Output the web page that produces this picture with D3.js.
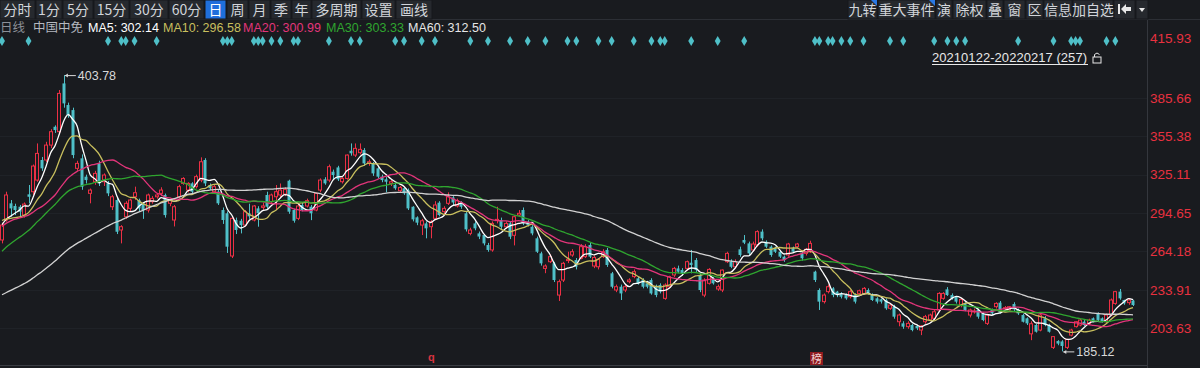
<!DOCTYPE html>
<html><head><meta charset="utf-8">
<script src="https://cdn.jsdelivr.net/npm/d3@7"></script>
<style>
html,body{margin:0;padding:0;background:#191b1f;overflow:hidden}
svg{display:block}
</style></head>
<body>
<svg id="c" width="1200" height="368"></svg>
<script>
// ---------- DATA ----------
const PRE_CLOSES = [200,198,195,192,190,188,186,185,184,186,188,190,192,194,195,196,197,198,199,200,201,202,200,198,197,199,201,203,205,206,
210,215,218,222,225,228,230,232,235,238,
255,262,270,276,280,284,288,290,292,294,296,294,292,290,288,287,286,285,284];
const OPEN = [273.3,289.1,302.3,300.2,299.6,293,309.4,311.5,320.7,336.6,336.6,348.4,362.9,359,397.2,380.1,376.1,330,337.9,323.4,
310.2,319.4,333.9,319.4,318.1,299.6,304.9,281.2,291.7,298.3,307.5,304.9,302.3,297,303.6,307.5,310.2,308.9,302.3,289.1,
307.5,318.1,312.8,318.1,315.5,320.7,336.6,316.8,311.5,311.5,297,294.4,260.6,289.1,288.5,285.1,294.4,289.1,298.3,299.1,
308.9,303.6,307.5,308.9,309.6,320.2,297,290.4,301,300.2,299.6,297,312.8,321.3,320.7,327.3,330.7,319.4,322,343.9,
340.5,342.4,344.5,333.9,333.9,330,323.4,321.3,318.1,316.8,312.3,314.2,312.8,299.6,291.2,285.1,286.4,283.8,290.4,302.8,
295.7,302.3,307,300.2,302.3,294.4,278.5,286.4,278.5,277.2,269.3,265.4,288.6,289.1,283.8,286.4,277,293,297,287.8,
283.8,274.6,262.7,250.8,256.1,254.8,229.7,241.6,257,261.4,257.4,258.8,260.1,269.3,252.7,252.1,260.1,265.4,246.9,233.7,
236.3,233.7,240.3,244.3,242.9,241.6,239,241.6,236.3,237.6,227.1,236.3,245.6,250.8,249.5,250.8,255.3,257.4,245.6,229.7,
239,242.9,234.5,233.7,256.1,256.1,252.1,265.9,273.3,270.6,265.4,269.3,279.9,271.9,268,266.7,264,260.1,261.4,266.7,
268,262.7,262.7,264,248.2,233.7,224.5,232.4,235,232.4,231,229.7,228.4,229.7,231,231,233.7,229.7,227.1,226.3,
225.8,219.2,220.5,208.6,207.3,204.7,206,205.3,202,208.6,209.9,211.3,217.9,227.1,234.2,229.7,228.4,221.8,223.1,213.9,
216.5,217.9,215.2,207.3,217.9,220.5,223.7,218.9,217.9,222.6,217.9,213.9,211.3,199,206,202,211.3,206,188.3,193.3,
193,188.3,198,204.7,206,208.6,207.3,211.3,215.2,211.3,208.6,213.9,223.1,232.4,225.8,223.7,225.3];
const HIGH = [287,311.5,304.9,302,301,303,316.8,333,349.7,339,351,361,364,392,403.78,382,378,336,341,325,
314,328,336,326,320,309,307,285,304,306,315.5,306,303,310,308,310,315,310,306,301,
317,323,319,319,325,338.7,338,318,317,313,299,296,292,291,290,297,302,301,300,302.8,
311.5,310,316.8,318,315,321,298,302,303,306,301,311,322,323,333,329,332,323,341,349.7,
349.7,349.7,346,337,335,331,325,323,321,318,316,315,314,300,292,290,288,289,304,304,
300,311,308,306,304,296,283,288,280,278,271,288,299.6,291,288,288,293,297,299,289,
285,276,264,254,262,256,242,256,264,266,259,270,270,271,261,259,266,267,248,238,
238,238,243,250,244,243,241,243,238,239,239,245,252,253,251,257,265.4,259,247,243,
251,244,238,250,264,258,258,268,277.2,272,272,281,281.7,273,269,268,265,261,271,268,
271,264,267,272.7,249,235,231,238,236,233,232,231,234,231,234,236,235,231,228,227,
227,223,222,215,209,209,207,206,206,214,215,218,232,232,236,231,229,227,224,219,
219,219,216,215,219,224,225,221,221,224,219,215,212,209,207,215,213,207,197,194,
194,195,203,209,211,210,211,212,216,212,215,227,233,234.5,226,227,226];
const LOW = [270.6,287.8,291.7,293,292,291,302.3,309,319.4,328,335,346,358,357,378,370,338,328,313,318,
302.3,317,316,316,308,297,278,270.6,290,296,305,296,290,295,302,306,308,291,300,284,
306,317,311,310,314,319,316,313,310,301,286,263,259,278,278.5,284,290,288,283.8,297,
298,302,297,307,308,294,287,289,296,299,289,296,311,317,319,320.7,320,318,321,340,
339,341,332,332,324,322,319,311,316,313,311,309,297,288,285,277.2,274.6,274.6,289,292,
294,301,301,299,298,280,277,281,274,269,264,264,286.4,282,282,274,269,292,285,284,
277,263,253,247,255,240,225,240,255,260,250,258,259,259,251,250,259,252,235,232,
225.8,232,239,243,238,235,235,230,228,231,226,235,244,247,245,249,246.9,248,232,228,
238,238,233,232,255,251,251,260,270,261,264,268,273,267,260,263,259,256,260,263,
267,257,261,263,240,217.9,223,231,228,228,227,226,227,223,230,230,230,225,223,223,
218,218,211,205,203,203,201,202,198,207,209,210,217,226,229,226,223,220,217,212,
215,211,209,206,214,219,215,218,217,217,214,208,206,194,200,201,205,200,187,190,
185.12,187,197,204,205,205,206,208,209,208,207,213,222,226,222,222,221];
const CLOSE = [285.1,308.9,298.3,297,295.7,301.7,307.5,331.8,341.8,330,348.4,359,360.3,389.3,381.4,372.2,340.5,333.9,315.4,320.7,
312.8,326,318.1,324.7,310.2,307.5,279.8,283.8,302.3,304.9,310.7,298.3,297,308.9,306.2,308.9,312.8,293,304.9,299.6,
315.5,322,318.1,311.5,323.4,335.2,318.1,314.2,315.5,302.3,289.1,268,290.4,281.2,285.1,295.7,292,300.2,294.4,300.2,
299.6,308.9,311.5,312.8,313.3,295.7,288.5,300.2,297,304.4,294.4,310.2,320.7,318.1,331.3,324.7,321.3,322,340.5,341.9,
345.8,345,333.9,335.2,326,323.4,320.7,319.4,319.4,314.2,314.9,310.2,298.3,289.6,287,288.5,282.5,287.8,301,293,
298.3,307.5,303,304.4,299.6,281.7,281.2,282.5,276,270.6,265.4,286.4,289.6,283.8,286.4,275.9,291.7,294.4,286.4,285.1,
278.5,264,254.8,252.7,260.1,241.6,240.3,254.8,258,264,252.1,268,268,260.1,259.5,258,264,253.5,236.3,236.3,
231,236.3,241.6,248.2,239,236.3,236.3,231,229.7,232.4,237.6,244.3,250.8,248.2,246.9,256.1,253.5,249.5,233.7,241.6,
250,239,236.3,249.5,262.7,252.1,256.1,261.4,271.2,262.7,270.1,279.9,274.6,268,261.4,264,260.1,257.4,270.1,264,
270.1,258.8,265.9,270.6,241.6,224.5,229.7,236.3,229.7,229.7,228.4,227.1,232.4,224.5,233.1,235,231,225.8,224.5,224.5,
219.2,221.8,212.6,213.9,204.7,207.3,202,203.4,205.3,212.6,213.9,216.5,231,231,229.7,227.1,224.5,226.3,217.9,217.9,
217.1,212.6,209.9,213.9,215.2,223.1,215.8,219.7,220.5,218.4,215.2,208.6,207.3,207,200.7,213.9,206,200.7,196.8,191.3,
189.4,194.6,202,208.6,209.9,206,209.9,208.6,210,208.6,213.9,225.8,232.4,227.1,223.1,225.8,221.8];

const MA_PERIODS = [5, 10, 20, 30, 60];
const MA_COLORS = ["#ffffff", "#c8bf5e", "#e2357a", "#2fa52f", "#d2d2d2"];
const Y_TICKS = [203.63, 233.91, 264.18, 294.65, 325.11, 355.38, 385.66];
const TOP_LABEL = "415.93";
const MAX_LABEL = "403.78", MAX_IDX = 14, MAX_VAL = 403.78;
const MIN_LABEL = "185.12", MIN_IDX = 240, MIN_VAL = 185.12;
const EVENT_IDX = [0,6,24,27,28,30,35,50,51,52,57,58,59,61,63,66,67,74,79,81,89,91,95,98,
106,110,115,119,123,128,130,135,138,143,147,149,150,156,162,168,
184,185,187,188,190,192,195,201,204,211,214,216,218,230,238,242,243,244,250,252];
const TOOL_LEFT = [["分时",0,35],["1分",36,62],["5分",63,93],["15分",94,129],["30分",130,168],["60分",169,204],["日",205,226],["周",227,248],["月",249,270],["季",271,291],["年",292,311],["多周期",312,361],["设置",362,395],["画线",396,432]];
const TOOL_RIGHT = [["九转",848,877],["重大事件",878,935],["演",936,952],["除权",953,986],["叠",987,1003],["窗",1004,1025],["区",1026,1043],["信息",1044,1072],["加自选",1073,1113]];
const LEGEND = [["日线","#8c9098",0],["中国中免","#b4b8bf",33],["MA5: 302.14","#ffffff",88],["MA10: 296.58","#c8bf5e",163],["MA20: 300.99","#e2357a",243],["MA30: 303.33","#2fa52f",326],["MA60: 312.50","#e6e6e6",408]];
const RANGE_TEXT = "20210122-20220217 (257)";

// ---------- DRAW ----------
const svg = d3.select("#c");
const UP = "#ec3045", DOWN = "#4fc0c8";
const N = CLOSE.length;
const x = d3.scaleLinear().domain([0, N - 1]).range([2, 1133]);
const y = d3.scaleLinear().domain([203.63, 385.66]).range([328, 98]);
const cjk = "'Noto Sans CJK SC','Noto Sans',sans-serif";
const num = "'Liberation Sans',Arial,sans-serif";

// grid
svg.append("g").selectAll("line").data(Y_TICKS).join("line")
  .attr("x1", 0).attr("x2", 1147).attr("y1", d => Math.round(y(d)) + 0.5).attr("y2", d => Math.round(y(d)) + 0.5)
  .attr("stroke", "#1f2227").attr("stroke-width", 1);

// frame lines
svg.append("line").attr("x1", 0).attr("x2", 1200).attr("y1", 19.5).attr("y2", 19.5).attr("stroke", "#2c2f35");
svg.append("line").attr("x1", 1147.5).attr("x2", 1147.5).attr("y1", 20).attr("y2", 368).attr("stroke", "#34373d");
svg.append("line").attr("x1", 0).attr("x2", 1147).attr("y1", 365.5).attr("y2", 365.5).attr("stroke", "#3a3d43");

// toolbar
function toolbar(items) {
  const g = svg.append("g");
  items.forEach(([t, a, b]) => {
    const active = t === "日";
    g.append("rect").attr("x", a).attr("y", 0).attr("width", b - a).attr("height", 19)
      .attr("fill", active ? "#1f6fdc" : "#26292e").attr("stroke", "#17191c").attr("stroke-width", 1);
    g.append("text").attr("x", (a + b) / 2).attr("y", 15).attr("text-anchor", "middle")
      .attr("font-family", cjk).attr("font-size", 14).attr("fill", active ? "#ffffff" : "#d2d5da").text(t);
  });
}
toolbar(TOOL_LEFT);
toolbar(TOOL_RIGHT);
// blue corner flags
[877, 935].forEach(px => {
  svg.append("path").attr("d", `M${px - 6},0 L${px},0 L${px},6 Z`).attr("fill", "#2a78e4");
});
// icon buttons
svg.append("rect").attr("x", 1114).attr("y", 0).attr("width", 21).attr("height", 19).attr("fill", "#26292e").attr("stroke", "#17191c");
svg.append("rect").attr("x", 1136).attr("y", 0).attr("width", 12).attr("height", 19).attr("fill", "#26292e").attr("stroke", "#17191c");
svg.append("rect").attr("x", 1118).attr("y", 4).attr("width", 2).attr("height", 10).attr("fill", "#e8e8e8");
svg.append("path").attr("d", "M1121,9 L1126,4 L1126,7 L1131,7 L1131,11 L1126,11 L1126,14 Z").attr("fill", "#e8e8e8");
svg.append("path").attr("d", "M1139,8 L1145,8 L1142,12 Z").attr("fill", "#e8e8e8");

// legend
LEGEND.forEach(([t, c, px]) => {
  const isC = /[\u4e00-\u9fff]/.test(t);
  svg.append("text").attr("x", px).attr("y", 32).attr("font-family", isC ? cjk : num)
    .attr("font-size", isC ? 12.5 : 12.5).attr("fill", c).text(t);
});

// event diamonds
svg.append("g").selectAll("path").data(EVENT_IDX).join("path")
  .attr("d", d3.symbol(d3.symbolDiamond, 30))
  .attr("transform", d => `translate(${x(d)},41)`).attr("fill", "#4fc0c8");

// range text
svg.append("text").attr("x", 932).attr("y", 62).attr("font-family", num).attr("font-size", 13)
  .attr("fill", "#e8e8e8").attr("textLength", 155).text(RANGE_TEXT);
svg.append("line").attr("x1", 932).attr("x2", 1088).attr("y1", 64.5).attr("y2", 64.5).attr("stroke", "#e8e8e8");
// lock
svg.append("rect").attr("x", 1093).attr("y", 57).attr("width", 8).attr("height", 6).attr("fill", "none").attr("stroke", "#e8e8e8").attr("stroke-width", 1);
svg.append("path").attr("d", "M1094.5,57 L1094.5,54.5 Q1097,51.5 1099.5,54.5").attr("fill", "none").attr("stroke", "#e8e8e8");

// y axis
const axis = d3.axisRight(y).tickValues(Y_TICKS).tickSize(0).tickPadding(3).tickFormat(d3.format(".2f"));
const ag = svg.append("g").attr("transform", "translate(1147,0)").call(axis);
ag.select(".domain").remove();
ag.selectAll("text").attr("fill", "#e8313f").attr("font-family", num).attr("font-size", 13.5);
svg.append("text").attr("x", 1150).attr("y", 43).attr("fill", "#e8313f").attr("font-family", num)
  .attr("font-size", 13.5).text(TOP_LABEL);

// candles
const plot = svg.append("g");
const bw = 3;
const cg = plot.selectAll("g.c").data(d3.range(N)).join("g");
cg.append("line")
  .attr("x1", i => Math.round(x(i)) + 0.5).attr("x2", i => Math.round(x(i)) + 0.5)
  .attr("y1", i => y(HIGH[i])).attr("y2", i => y(LOW[i]))
  .attr("stroke", i => CLOSE[i] >= OPEN[i] ? UP : DOWN).attr("stroke-width", 1);
cg.append("rect")
  .attr("x", i => Math.round(x(i)) - 1.5 + 0.5 - 0.5)
  .attr("y", i => y(Math.max(OPEN[i], CLOSE[i])))
  .attr("width", bw)
  .attr("height", i => Math.max(1, Math.abs(y(OPEN[i]) - y(CLOSE[i]))))
  .attr("fill", i => CLOSE[i] >= OPEN[i] ? "#191b1f" : DOWN)
  .attr("stroke", i => CLOSE[i] >= OPEN[i] ? UP : "none").attr("stroke-width", 1);

// moving averages
const ALL = PRE_CLOSES.concat(CLOSE);
const P = PRE_CLOSES.length;
MA_PERIODS.forEach((n, k) => {
  const vals = d3.range(N).map(i => d3.mean(ALL.slice(P + i - n + 1, P + i + 1)));
  plot.append("path").datum(vals)
    .attr("d", d3.line().x((d, i) => x(i)).y(d => y(d)).curve(d3.curveMonotoneX))
    .attr("fill", "none").attr("stroke", MA_COLORS[k]).attr("stroke-width", 1.3);
});

// extreme labels
const mx = x(MAX_IDX), my = y(MAX_VAL);
svg.append("line").attr("x1", mx + 1).attr("x2", mx + 12).attr("y1", my + 0.5).attr("y2", my + 0.5).attr("stroke", "#d8d8d8");
svg.append("path").attr("d", `M${mx + 1},${my + 0.5} l3,-2 l0,4 Z`).attr("fill", "#d8d8d8");
svg.append("text").attr("x", mx + 14).attr("y", my + 4.5).attr("font-family", num).attr("font-size", 12.5).attr("fill", "#d8d8d8").text(MAX_LABEL);
const nx = x(MIN_IDX), ny = y(MIN_VAL);
svg.append("line").attr("x1", nx + 1).attr("x2", nx + 12).attr("y1", ny + 0.5).attr("y2", ny + 0.5).attr("stroke", "#d8d8d8");
svg.append("path").attr("d", `M${nx + 1},${ny + 0.5} l3,-2 l0,4 Z`).attr("fill", "#d8d8d8");
svg.append("text").attr("x", nx + 14).attr("y", ny + 4.5).attr("font-family", num).attr("font-size", 12.5).attr("fill", "#d8d8d8").text(MIN_LABEL);

// bottom markers
svg.append("text").attr("x", 428).attr("y", 361).attr("font-family", num).attr("font-weight", "bold").attr("font-size", 11).attr("fill", "#d8343f").text("q");
svg.append("rect").attr("x", 810).attr("y", 352).attr("width", 13).attr("height", 13).attr("fill", "#8e1a1f");
svg.append("text").attr("x", 816.5).attr("y", 363).attr("text-anchor", "middle").attr("font-family", cjk).attr("font-size", 11).attr("fill", "#f0d0d0").text("榜");
</script>
</body></html>
